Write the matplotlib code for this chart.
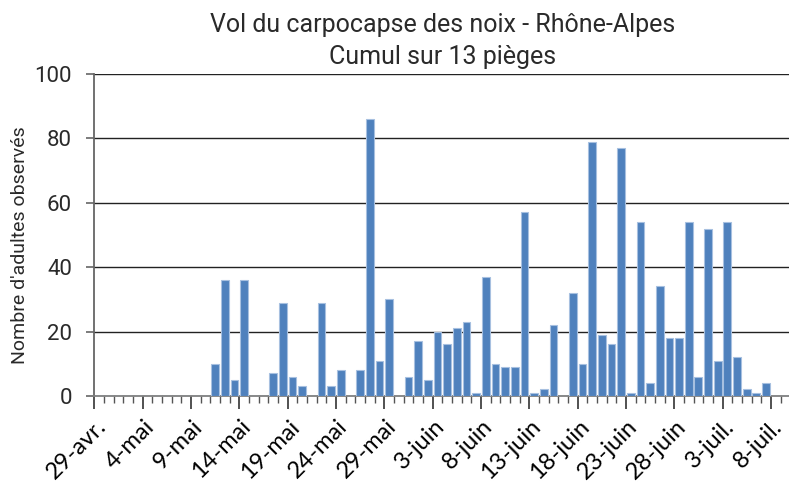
import matplotlib
matplotlib.use("Agg")
import matplotlib.pyplot as plt
import pandas as pd

# Données : captures quotidiennes, du 29 avril au 9 juillet
dates = pd.date_range("2014-04-29", "2014-07-09", freq="D")
mois = {4: "avr.", 5: "mai", 6: "juin", 7: "juil."}
etiquettes = [f"{d.day}-{mois[d.month]}" for d in dates]

captures = [0, 0, 0, 0, 0, 0, 0, 0, 0, 0, 0, 0,
            10, 36, 5, 36, 0, 0, 7, 29, 6, 3, 0, 29, 3, 8, 0, 8,
            86, 11, 30, 0, 6, 17, 5, 20, 16, 21, 23, 1, 37, 10, 9, 9,
            57, 1, 2, 22, 0, 32, 10, 79, 19, 16, 77, 1, 54, 4, 34, 18,
            18, 54, 6, 52, 11, 54, 12, 2, 1, 4, 0, 0]
yticks = [0, 20, 40, 60, 80, 100]

police_titre = dict(family="Roboto", weight="normal", color="#2a2a2a")

fig = plt.figure(figsize=(7.89, 4.84), dpi=100)
ax = fig.add_axes([0.1195, 0.182, 0.882, 0.665])

x = list(range(len(dates)))
ax.bar(x, captures, width=0.8, color="#4F81BD", edgecolor="#A7C0E0",
       linewidth=0.8, zorder=3)

ax.set_xlim(-0.5, len(dates) - 0.5)
ax.set_ylim(0, 100)
ax.set_yticks(yticks)
ax.set_yticklabels([str(v) for v in yticks], fontsize=16, **police_titre)
ax.yaxis.grid(True, color="#222222", linewidth=1.0, zorder=0)
ax.tick_params(axis="y", length=6, width=1.2, color="#666666", pad=10)

# graduations : petites tous les jours, grandes tous les 5 jours
bornes = [i - 0.5 for i in range(len(dates) + 1)]
ax.set_xticks(bornes[::5])
ax.set_xticks(bornes, minor=True)
ax.set_xticklabels([])
ax.tick_params(axis="x", which="major", length=9, width=1.2,
               color="#333333", direction="out")
ax.tick_params(axis="x", which="minor", length=5, width=1.0,
               color="#555555", direction="out")

for i in range(0, len(dates), 5):
    ax.text(i + 0.35, -0.085, etiquettes[i], transform=ax.get_xaxis_transform(),
            rotation=45, ha="right", va="center", rotation_mode="anchor",
            fontsize=17, family="Lato", color="#000000")

for s in ["top", "right"]:
    ax.spines[s].set_visible(False)
ax.spines["left"].set_color("#666666")
ax.spines["left"].set_linewidth(1.3)
ax.spines["bottom"].set_color("#808080")
ax.spines["bottom"].set_linewidth(1.3)

ax.set_ylabel("Nombre d'adultes observés", fontsize=14, **police_titre)
ax.yaxis.set_label_coords(-0.094, 0.47)

fig.text(0.561, 0.948, "Vol du carpocapse des noix - Rhône-Alpes",
         ha="center", va="center", fontsize=18, **police_titre)
fig.text(0.561, 0.882, "Cumul sur 13 pièges", ha="center", va="center",
         fontsize=18, **police_titre)

fig.savefig("out.png", dpi=100, facecolor="white")
